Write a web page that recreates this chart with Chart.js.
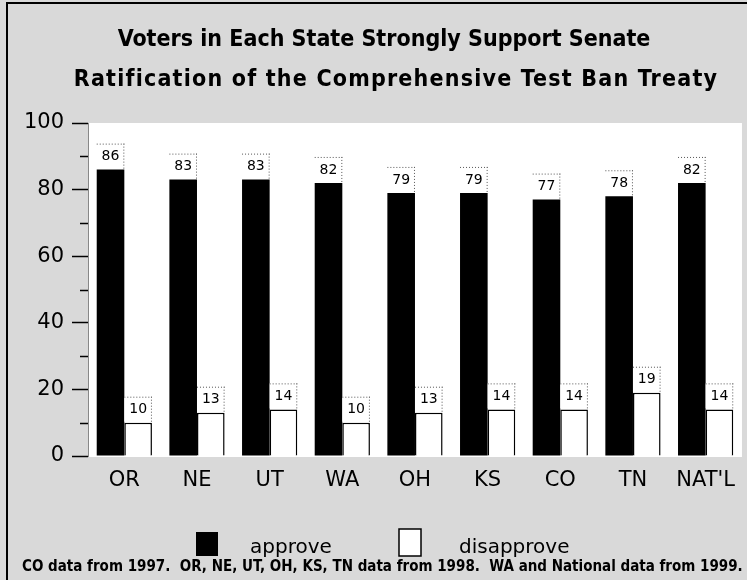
<!DOCTYPE html>
<html>
<head>
<meta charset="utf-8">
<script src="https://cdn.jsdelivr.net/npm/chart.js@4/dist/chart.umd.min.js"></script>
<style>
  html, body { margin: 0; padding: 0; background: #fff; }
  canvas { display: block; }
</style>
</head>
<body>
<canvas id="c" width="747" height="580"></canvas>
<script>
const titleLines = ['Voters in Each State Strongly Support Senate', 'Ratification of the Comprehensive Test Ban Treaty'];
const categories = ['OR', 'NE', 'UT', 'WA', 'OH', 'KS', 'CO', 'TN', "NAT'L"];
const approve = [86, 83, 83, 82, 79, 79, 77, 78, 82];
const disapprove = [10, 13, 14, 10, 13, 14, 14, 19, 14];
const yTicks = [0, 20, 40, 60, 80, 100];
const yMinorTicks = [10, 30, 50, 70, 90];
const seriesNames = ['approve', 'disapprove'];
const footnote = 'CO data from 1997.  OR, NE, UT, OH, KS, TN data from 1998.  WA and National data from 1999.';

const BG = '#d9d9d9';

const decorPlugin = {
  id: 'decor',
  beforeDraw(chart) {
    const { ctx, chartArea: a, width, height } = chart;
    ctx.save();
    ctx.fillStyle = BG;
    ctx.fillRect(0, 0, width, height);
    ctx.fillStyle = '#ffffff';
    ctx.fillRect(a.left, a.top, a.right - a.left, a.bottom - a.top + 1);
    // frame
    ctx.strokeStyle = '#000';
    ctx.lineWidth = 2;
    ctx.beginPath();
    ctx.moveTo(7, height);
    ctx.lineTo(7, 3);
    ctx.lineTo(width, 3);
    ctx.stroke();
    // title
    ctx.fillStyle = '#000';
    ctx.font = 'bold 23px "DejaVu Sans Condensed", "DejaVu Sans"';
    ctx.textAlign = 'center';
    ctx.textBaseline = 'middle';
    ctx.fillText(titleLines[0], 384, 40);
    ctx.letterSpacing = '1.2px';
    ctx.fillText(titleLines[1], 396, 80);
    ctx.letterSpacing = '0px';
    ctx.restore();
  },
  afterDraw(chart) {
    const { ctx } = chart;
    const ys = chart.scales.y;
    ctx.save();
    // minor ticks
    ctx.strokeStyle = '#000';
    ctx.lineWidth = 1.5;
    yMinorTicks.forEach(v => {
      const py = Math.round(ys.getPixelForValue(v)) + 0.5;
      ctx.beginPath();
      ctx.moveTo(ys.right - 8, py);
      ctx.lineTo(ys.right, py);
      ctx.stroke();
    });
    // value labels
    chart.data.datasets.forEach((ds, di) => {
      const meta = chart.getDatasetMeta(di);
      meta.data.forEach((bar, i) => {
        const p = bar.getProps(['x', 'y', 'width'], true);
        const left = p.x - p.width / 2;
        const top = p.y - 26;
        ctx.fillStyle = '#fff';
        ctx.fillRect(left, top, p.width, 25);
        ctx.setLineDash([1, 2]);
        ctx.strokeStyle = '#555';
        ctx.lineWidth = 1;
        ctx.beginPath();
        ctx.moveTo(left, top + 0.5);
        ctx.lineTo(left + p.width, top + 0.5);
        ctx.moveTo(left + p.width - 0.5, top);
        ctx.lineTo(left + p.width - 0.5, top + 25);
        ctx.stroke();
        ctx.setLineDash([]);
        ctx.fillStyle = '#000';
        ctx.font = '14px "DejaVu Sans"';
        ctx.textAlign = 'center';
        ctx.textBaseline = 'middle';
        ctx.fillText(String(ds.data[i]), p.x, p.y - 13);
      });
    });
    // legend
    ctx.fillStyle = '#000';
    ctx.fillRect(196, 532, 22, 24);
    ctx.fillStyle = '#fff';
    ctx.fillRect(399, 529, 22, 27);
    ctx.strokeStyle = '#000';
    ctx.lineWidth = 1.5;
    ctx.strokeRect(399, 529, 22, 27);
    ctx.fillStyle = '#000';
    ctx.font = '20px "DejaVu Sans"';
    ctx.textAlign = 'left';
    ctx.textBaseline = 'alphabetic';
    ctx.fillText(seriesNames[0], 250, 553);
    ctx.fillText(seriesNames[1], 459, 553);
    // footnote
    ctx.font = 'bold 15px "DejaVu Sans Condensed", "DejaVu Sans"';
    ctx.fillText(footnote, 22, 571, 722);
    ctx.restore();
  }
};

new Chart(document.getElementById('c'), {
  type: 'bar',
  data: {
    labels: categories,
    datasets: [
      {
        label: seriesNames[0],
        data: approve,
        backgroundColor: '#000',
        borderColor: '#000',
        borderWidth: 0,
        categoryPercentage: 0.76,
        barPercentage: 1.0
      },
      {
        label: seriesNames[1],
        data: disapprove,
        backgroundColor: '#fff',
        borderColor: '#000',
        borderWidth: 1.5,
        categoryPercentage: 0.76,
        barPercentage: 1.0
      }
    ]
  },
  options: {
    responsive: false,
    animation: false,
    devicePixelRatio: 1,
    layout: { padding: { top: 123, left: 0, right: 0, bottom: 0 } },
    plugins: {
      legend: { display: false },
      title: { display: false },
      tooltip: { enabled: false }
    },
    scales: {
      x: {
        grid: { display: false, drawTicks: false },
        border: { display: false },
        ticks: {
          color: '#000',
          font: { size: 21, family: '"DejaVu Sans"' },
          padding: 12,
          maxRotation: 0,
          autoSkip: false
        },
        afterFit(scale) { scale.height = 124; }
      },
      y: {
        min: 0,
        max: 100,
        afterBuildTicks(scale) { scale.ticks = yTicks.map(v => ({ value: v })); },
        grid: {
          drawOnChartArea: false,
          drawTicks: true,
          tickLength: 16,
          tickColor: '#000',
          tickWidth: 1.5
        },
        border: { display: true, color: '#888', width: 1 },
        ticks: {
          color: '#000',
          font: { size: 21, family: '"DejaVu Sans"' },
          padding: 8
        },
        afterFit(scale) { scale.width = 88; }
      }
    }
  },
  plugins: [decorPlugin]
});
</script>
</body>
</html>
